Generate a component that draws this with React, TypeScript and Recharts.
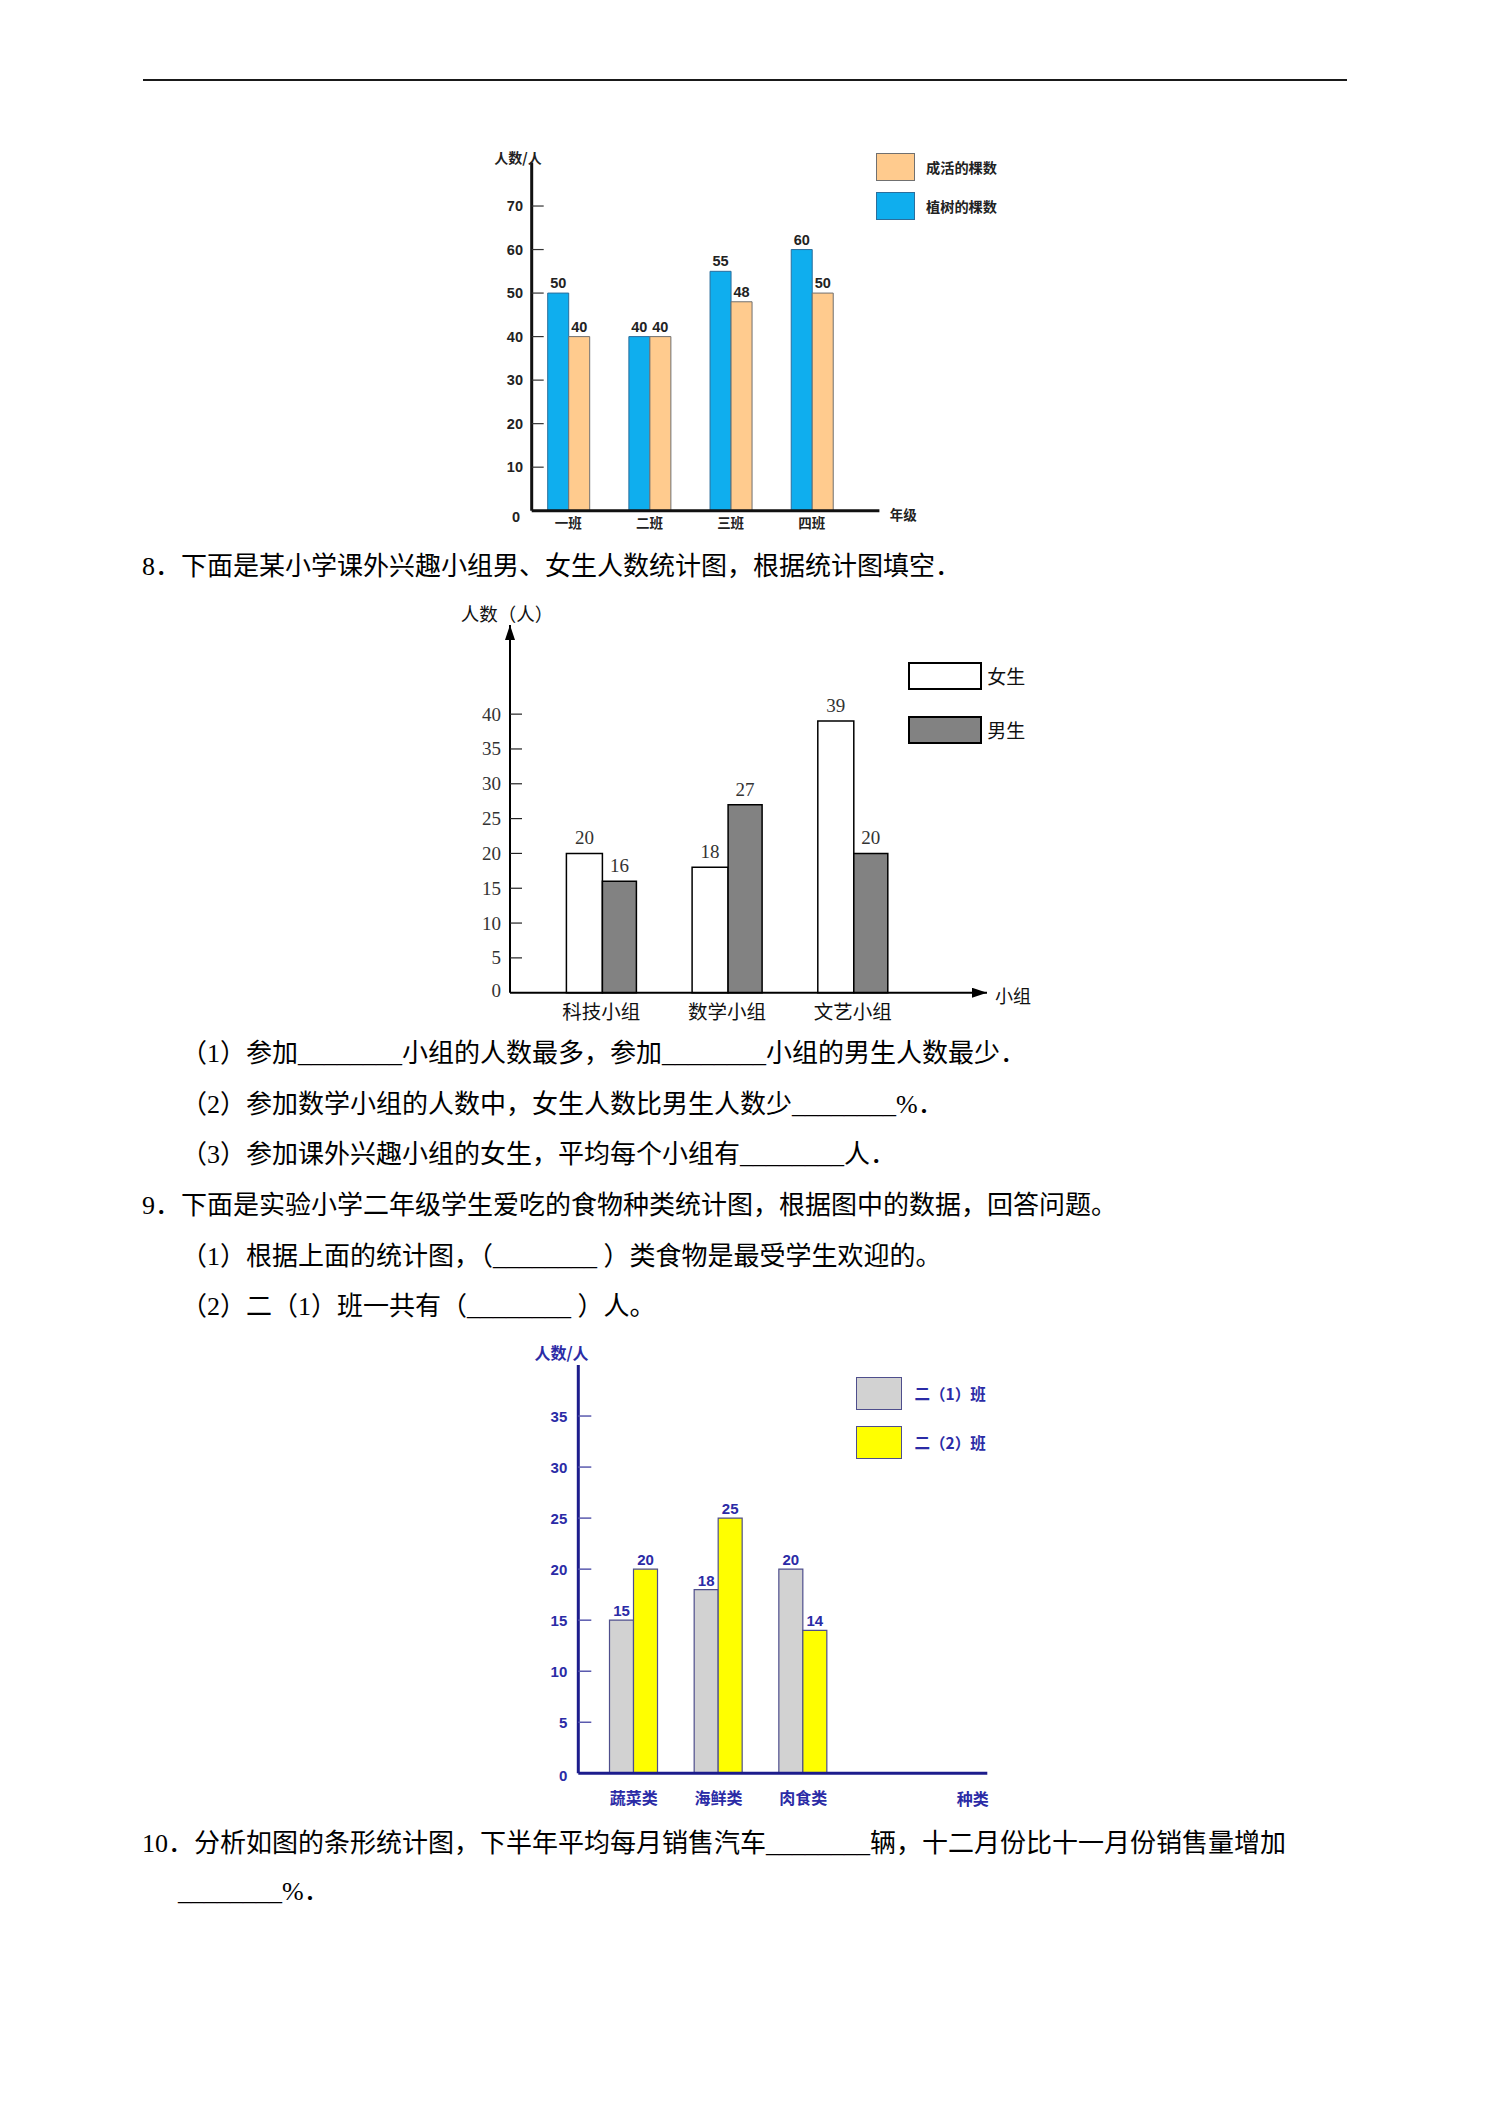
import React from 'react';
import { BarChart, Bar, XAxis, YAxis, LabelList, Legend, Label } from 'recharts';

// ---------------- Chart 1: 植树 ----------------
const classNames1 = ['一班', '二班', '三班', '四班'];
const treesPlanted1 = [50, 40, 55, 60];
const treesSurvived1 = [40, 40, 48, 50];
const yTicks1 = [0, 10, 20, 30, 40, 50, 60, 70];

// ---------------- Chart 2: 兴趣小组 ----------------
const groups2 = ['科技小组', '数学小组', '文艺小组'];
const girls2 = [20, 18, 39];
const boys2 = [16, 27, 20];
const yTicks2 = [0, 5, 10, 15, 20, 25, 30, 35, 40];

// ---------------- Chart 3: 食物种类 ----------------
const foods3 = ['蔬菜类', '海鲜类', '肉食类'];
const classOne3 = [15, 18, 20];
const classTwo3 = [20, 25, 14];
const yTicks3 = [0, 5, 10, 15, 20, 25, 30, 35];

const data1 = classNames1.map((name, i) => ({ name, planted: treesPlanted1[i], survived: treesSurvived1[i] }));
const data2 = groups2.map((name, i) => ({ name, girls: girls2[i], boys: boys2[i] }));
const data3 = foods3.map((name, i) => ({ name, c1: classOne3[i], c2: classTwo3[i] }));

const CJK = "'Noto Sans CJK SC', sans-serif";
const SANS = "'Liberation Sans', 'Noto Sans CJK SC', sans-serif";
const SERIF = "'Liberation Serif', 'Noto Sans CJK SC', serif";

const makeYTick = (o: any) => (props: any) => {
  const { x, y, payload } = props;
  const axisX = x + o.margin;
  const isZero = payload && payload.value === 0;
  return (
    <g>
      {!isZero && (
        <line x1={axisX} x2={axisX + o.len} y1={y} y2={y} stroke={o.lineColor} strokeWidth={o.lineWidth} />
      )}
      <text
        x={x + (isZero ? o.zeroDx || 0 : 0)}
        y={y + (isZero ? o.zeroDy || 0 : 0)}
        textAnchor="end"
        dominantBaseline="central"
        {...o.textStyle}
      >
        {payload.value}
      </text>
    </g>
  );
};

// title placed relative to the axis box's right end / top (viewBox)
const axisTitle = (text: string, dx: number, dy: number, anchor: string, style: any) => (props: any) => {
  const vb = props.viewBox || { x: 0, y: 0, width: 0, height: 0 };
  return (
    <text x={vb.x + vb.width + dx} y={vb.y + dy} textAnchor={anchor} dominantBaseline="central" {...style}>
      {text}
    </text>
  );
};

const boxLegend = (spec: any) => (props: any) => {
  const payload = (props && props.payload) || [];
  const items = spec.order.map((k: string) => {
    const p = payload.find((e: any) => e.dataKey === k);
    return { key: k, label: p ? p.value : spec.names[k] };
  });
  return (
    <div style={{ display: 'flex', flexDirection: 'column', gap: spec.rowGap }}>
      {items.map((it: any) => (
        <div key={it.key} style={{ display: 'flex', alignItems: 'center' }}>
          <div
            style={{
              width: spec.boxW,
              height: spec.boxH,
              background: spec.styles[it.key].fill,
              border: `${spec.borderW}px solid ${spec.styles[it.key].stroke}`,
              boxSizing: 'border-box',
              flex: 'none',
            }}
          />
          <span style={{ marginLeft: spec.gap, whiteSpace: 'nowrap', ...spec.textStyle }}>{it.label}</span>
        </div>
      ))}
    </div>
  );
};

const c1Styles: any = {
  planted: { fill: '#0FAEEE', stroke: '#2B6E9C' },
  survived: { fill: '#FFCB8E', stroke: '#707070' },
};
const c2Styles: any = {
  girls: { fill: '#FFFFFF', stroke: '#000000' },
  boys: { fill: '#828282', stroke: '#000000' },
};
const c3Styles: any = {
  c1: { fill: '#D2D2D2', stroke: '#4E4E8C' },
  c2: { fill: '#FFFF00', stroke: '#4E4E8C' },
};

const BLUE_TEXT = '#2B2BA6';

function Chart1() {
  return (
    <div style={{ position: 'absolute', left: 470, top: 140 }}>
      <BarChart width={560} height={400} data={data1} margin={{ top: 22.5, right: 150.6, bottom: 4.3, left: 0 }} barGap={0}>
        <XAxis
          dataKey="name"
          height={25}
          interval={0}
          tickLine={false}
          tickSize={0}
          tickMargin={8}
          padding={{ left: -4, right: 27 }}
          axisLine={{ stroke: '#111', strokeWidth: 3 }}
          tick={{ fontSize: 13.5, fontWeight: 700, fill: '#222', fontFamily: CJK }}
        >
          <Label content={axisTitle('年级', 10.4, 3, 'start', { fontSize: 13.5, fontWeight: 700, fill: '#222', fontFamily: CJK })} />
        </XAxis>
        <YAxis
          width={61.7}
          domain={[0, 80]}
          ticks={yTicks1}
          interval={0}
          tickSize={0}
          tickMargin={8.7}
          axisLine={{ stroke: '#111', strokeWidth: 3 }}
          tick={makeYTick({
            margin: 8.7,
            len: 12,
            lineColor: '#333',
            lineWidth: 1.2,
            zeroDx: -3,
            zeroDy: 6,
            textStyle: { fontSize: 14.5, fontWeight: 700, fill: '#222', fontFamily: SANS },
          })}
        >
          <Label content={axisTitle('人数/人', -13.7, -5.5, 'middle', { fontSize: 14, fontWeight: 700, fill: '#222', fontFamily: CJK })} />
        </YAxis>
        <Legend
          layout="vertical"
          align="center"
          verticalAlign="middle"
          wrapperStyle={{ position: 'absolute', left: 406, top: 13, width: 'auto', height: 'auto' }}
          content={boxLegend({
            order: ['survived', 'planted'],
            names: { survived: '成活的棵数', planted: '植树的棵数' },
            styles: c1Styles,
            boxW: 39,
            boxH: 28,
            borderW: 1.5,
            gap: 11,
            rowGap: 11,
            textStyle: { fontSize: 14.2, fontWeight: 700, color: '#222', fontFamily: CJK },
          })}
        />
        <Bar dataKey="planted" name="植树的棵数" barSize={21} fill={c1Styles.planted.fill} stroke={c1Styles.planted.stroke} strokeWidth={1} isAnimationActive={false}>
          <LabelList dataKey="planted" position="top" offset={5} fontSize={14.5} fontWeight={700} fill="#222" fontFamily={SANS} />
        </Bar>
        <Bar dataKey="survived" name="成活的棵数" barSize={21} fill={c1Styles.survived.fill} stroke={c1Styles.survived.stroke} strokeWidth={1} isAnimationActive={false}>
          <LabelList dataKey="survived" position="top" offset={5} fontSize={14.5} fontWeight={700} fill="#222" fontFamily={SANS} />
        </Bar>
      </BarChart>
    </div>
  );
}

function Chart2() {
  return (
    <div style={{ position: 'absolute', left: 440, top: 590 }}>
      <BarChart width={620} height={440} data={data2} margin={{ top: 35, right: 73, bottom: 7.3, left: 0 }} barGap={0}>
        <XAxis
          dataKey="name"
          height={30}
          interval={0}
          tickLine={false}
          tickSize={0}
          tickMargin={12}
          padding={{ left: 28.4, right: 71.5 }}
          axisLine={{ stroke: '#000', strokeWidth: 2, markerEnd: 'url(#arrowHead)' }}
          tick={{ fontSize: 19.5, fill: '#111', fontFamily: CJK }}
        >
          <Label content={axisTitle('小组', 8, 2.5, 'start', { fontSize: 18, fill: '#111', fontFamily: CJK })} />
        </XAxis>
        <YAxis
          width={70}
          domain={[0, 52.8]}
          ticks={yTicks2}
          interval={0}
          tickSize={0}
          tickMargin={9}
          axisLine={{ stroke: '#000', strokeWidth: 2, markerStart: 'url(#arrowHead)' }}
          tick={makeYTick({
            margin: 9,
            len: 12,
            lineColor: '#222',
            lineWidth: 1.2,
            zeroDy: -2,
            textStyle: { fontSize: 19, fill: '#333', fontFamily: SERIF },
          })}
        >
          <Label content={axisTitle('人数（人）', -3, -12, 'middle', { fontSize: 18.5, fill: '#111', fontFamily: CJK })} />
        </YAxis>
        <Legend
          layout="vertical"
          align="center"
          verticalAlign="middle"
          wrapperStyle={{ position: 'absolute', left: 467.7, top: 71.7, width: 'auto', height: 'auto' }}
          content={boxLegend({
            order: ['girls', 'boys'],
            names: { girls: '女生', boys: '男生' },
            styles: c2Styles,
            boxW: 74,
            boxH: 28,
            borderW: 2,
            gap: 5.5,
            rowGap: 26,
            textStyle: { fontSize: 19, color: '#111', fontFamily: CJK },
          })}
        />
        <Bar dataKey="girls" name="女生" barSize={36} fill={c2Styles.girls.fill} stroke="#000" strokeWidth={1.5} isAnimationActive={false}>
          <LabelList dataKey="girls" position="top" offset={9} fontSize={19} fill="#333" fontFamily={SERIF} />
        </Bar>
        <Bar dataKey="boys" name="男生" barSize={34} fill={c2Styles.boys.fill} stroke="#000" strokeWidth={1.5} isAnimationActive={false}>
          <LabelList dataKey="boys" position="top" offset={9} fontSize={19} fill="#333" fontFamily={SERIF} />
        </Bar>
      </BarChart>
    </div>
  );
}

function Chart3() {
  return (
    <div style={{ position: 'absolute', left: 510, top: 1330 }}>
      <BarChart width={500} height={490} data={data3} margin={{ top: 35, right: 22.7, bottom: 6.7, left: 0 }} barGap={0}>
        <XAxis
          dataKey="name"
          height={40}
          interval={0}
          tickLine={false}
          tickSize={0}
          tickMargin={19.7}
          padding={{ left: 13.2, right: 141.8 }}
          axisLine={{ stroke: '#1C1C8C', strokeWidth: 3 }}
          tick={{ fontSize: 16, fontWeight: 700, fill: BLUE_TEXT, fontFamily: CJK }}
        >
          <Label content={axisTitle('种类', -14.6, 25, 'middle', { fontSize: 16, fontWeight: 700, fill: BLUE_TEXT, fontFamily: CJK })} />
        </XAxis>
        <YAxis
          width={68.3}
          domain={[0, 40]}
          ticks={yTicks3}
          interval={0}
          tickSize={0}
          tickMargin={11}
          axisLine={{ stroke: '#1C1C8C', strokeWidth: 3 }}
          tick={makeYTick({
            margin: 11,
            len: 13,
            lineColor: '#5A5AAE',
            lineWidth: 1.5,
            zeroDy: 2,
            textStyle: { fontSize: 15, fontWeight: 700, fill: BLUE_TEXT, fontFamily: SANS },
          })}
        >
          <Label content={axisTitle('人数/人', -16.8, -13.3, 'middle', { fontSize: 16, fontWeight: 700, fill: BLUE_TEXT, fontFamily: CJK })} />
        </YAxis>
        <Legend
          layout="vertical"
          align="center"
          verticalAlign="middle"
          wrapperStyle={{ position: 'absolute', left: 345.5, top: 46.7, width: 'auto', height: 'auto' }}
          content={boxLegend({
            order: ['c1', 'c2'],
            names: { c1: '二（1）班', c2: '二（2）班' },
            styles: c3Styles,
            boxW: 46,
            boxH: 33,
            borderW: 1.5,
            gap: 13,
            rowGap: 16,
            textStyle: { fontSize: 15.5, fontWeight: 700, color: BLUE_TEXT, fontFamily: CJK },
          })}
        />
        <Bar dataKey="c1" name="二（1）班" barSize={24} fill={c3Styles.c1.fill} stroke={c3Styles.c1.stroke} strokeWidth={1.2} isAnimationActive={false}>
          <LabelList dataKey="c1" position="top" offset={4} fontSize={15} fontWeight={700} fill={BLUE_TEXT} fontFamily={SANS} />
        </Bar>
        <Bar dataKey="c2" name="二（2）班" barSize={24} fill={c3Styles.c2.fill} stroke={c3Styles.c2.stroke} strokeWidth={1.2} isAnimationActive={false}>
          <LabelList dataKey="c2" position="top" offset={4} fontSize={15} fontWeight={700} fill={BLUE_TEXT} fontFamily={SANS} />
        </Bar>
      </BarChart>
    </div>
  );
}

const textLines = [
  { text: '8．下面是某小学课外兴趣小组男、女生人数统计图，根据统计图填空．', x: 142, cy: 565.5 },
  { text: '（1）参加________小组的人数最多，参加________小组的男生人数最少．', x: 181, cy: 1052.5 },
  { text: '（2）参加数学小组的人数中，女生人数比男生人数少________%．', x: 181, cy: 1103.5 },
  { text: '（3）参加课外兴趣小组的女生，平均每个小组有________人．', x: 181, cy: 1154 },
  { text: '9．下面是实验小学二年级学生爱吃的食物种类统计图，根据图中的数据，回答问题。', x: 142, cy: 1204.5 },
  { text: '（1）根据上面的统计图，（________ ）类食物是最受学生欢迎的。', x: 181, cy: 1255.5 },
  { text: '（2）二（1）班一共有（________ ）人。', x: 181, cy: 1306 },
  { text: '10．分析如图的条形统计图，下半年平均每月销售汽车________辆，十二月份比十一月份销售量增加', x: 142, cy: 1843 },
  { text: '________%．', x: 178, cy: 1891 },
];

export default function App() {
  return (
    <div style={{ position: 'absolute', left: 0, top: 0, width: 1488, height: 2104, background: '#fff', overflow: 'hidden' }}>
      <svg width={0} height={0} style={{ position: 'absolute' }}>
        <defs>
          <marker
            id="arrowHead"
            viewBox="0 0 15 10"
            refX={15}
            refY={5}
            markerWidth={15}
            markerHeight={10}
            markerUnits="userSpaceOnUse"
            orient="auto-start-reverse"
          >
            <path d="M0,0 L15,5 L0,10 z" fill="#000" />
          </marker>
        </defs>
      </svg>
      <div style={{ position: 'absolute', left: 143, top: 79, width: 1204, height: 2, background: '#1a1a1a' }} />
      <Chart1 />
      {textLines.map((l, i) => (
        <div
          key={i}
          style={{
            position: 'absolute',
            left: l.x,
            top: l.cy - 13.9,
            fontSize: 26,
            lineHeight: '30px',
            whiteSpace: 'nowrap',
            color: '#000',
            fontFamily: SERIF,
          }}
        >
          {l.text}
        </div>
      ))}
      <Chart2 />
      <Chart3 />
    </div>
  );
}
